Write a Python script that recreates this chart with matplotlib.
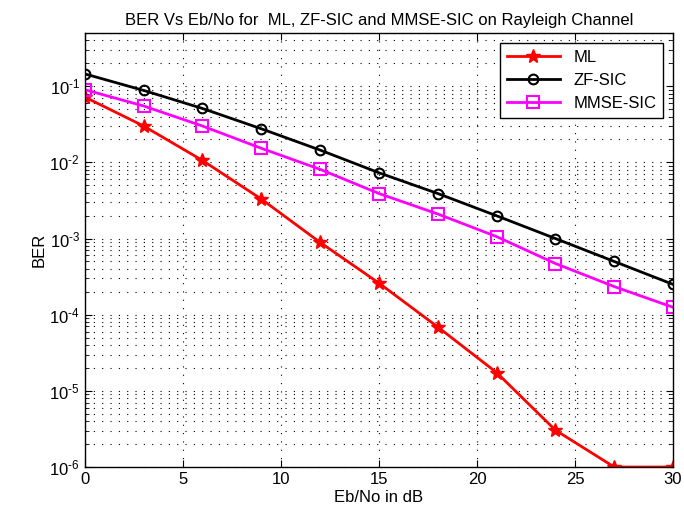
import numpy as np
import matplotlib
matplotlib.use("Agg")
import matplotlib.pyplot as plt
from matplotlib.ticker import LogLocator, NullFormatter, FuncFormatter

plt.rcParams['font.family'] = ['Liberation Sans', 'DejaVu Sans']
plt.rcParams['mathtext.fontset'] = 'custom'
plt.rcParams['mathtext.rm'] = 'Liberation Sans'
plt.rcParams['mathtext.it'] = 'Liberation Sans'

# Eb/No points (dB)
snr_db = [0, 3, 6, 9, 12, 15, 18, 21, 24, 27, 30]

# BER
ber_ml = [0.072, 0.030, 0.0106, 0.0033, 8.9e-4, 2.6e-4, 6.9e-5, 1.74e-5, 3.05e-6, 1.0e-6, 1.0e-6]
ber_zf = [0.145, 0.088, 0.051, 0.0276, 0.0145, 0.0073, 0.0039, 0.00199, 1.0e-3, 5.0e-4, 2.5e-4]
ber_mmse = [0.09, 0.055, 0.030, 0.0153, 0.0081, 0.0039, 0.0021, 0.00106, 4.7e-4, 2.34e-4, 1.25e-4]

fig = plt.figure(figsize=(6.84, 5.23), dpi=100)
ax = fig.add_axes([0.124, 0.107, 0.86, 0.83])

ax.semilogy(snr_db, ber_ml, 'r-*', lw=2, ms=10, label='ML')
ax.semilogy(snr_db, ber_zf, 'k-o', lw=2, ms=7, mfc='none', mew=1.5, label='ZF-SIC')
ax.semilogy(snr_db, ber_mmse, '-s', color='magenta', lw=2, ms=9, mfc='none', mew=1.5,
            label='MMSE-SIC')

ax.set_xlim(0, 30)
ax.set_ylim(1e-6, 0.5)
ax.set_xticks(np.arange(0, 31, 5))
ax.yaxis.set_major_locator(LogLocator(base=10, numticks=10))
ax.yaxis.set_major_formatter(FuncFormatter(
    lambda v, p: r'$\mathregular{10^{\text{-}%d}}$' % round(-np.log10(v))))
ax.yaxis.set_minor_locator(LogLocator(base=10, subs=np.arange(2, 10), numticks=20))
ax.yaxis.set_minor_formatter(NullFormatter())

dots = (0, (1, 6.5))
ax.grid(True, which='major', color='k', linestyle=dots, linewidth=0.8)
ax.grid(True, which='minor', axis='y', color='k', linestyle=dots, linewidth=0.8)

ax.tick_params(which='both', direction='in', top=True, right=True, labelsize=12)
ax.tick_params(which='major', length=5)
ax.tick_params(which='minor', length=3)
for s in ax.spines.values():
    s.set_linewidth(1.0)

ax.set_xlabel('Eb/No in dB', fontsize=12, labelpad=2)
ax.set_ylabel('BER', fontsize=12, labelpad=2)
ax.set_title('BER Vs Eb/No for  ML, ZF-SIC and MMSE-SIC on Rayleigh Channel', fontsize=12, pad=6)

leg = ax.legend(loc='upper right', fontsize=12, fancybox=False, framealpha=1,
                edgecolor='k', handlelength=3.2, numpoints=1, borderaxespad=0.6)
leg.get_frame().set_linewidth(1.0)

fig.savefig('out.png', dpi=100)
